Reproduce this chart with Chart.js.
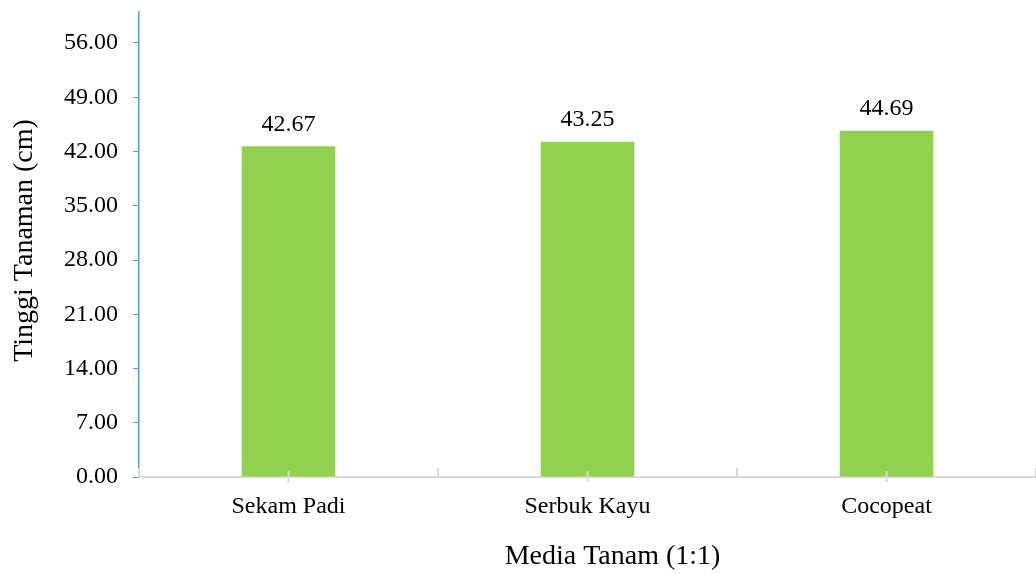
<!DOCTYPE html>
<html>
<head>
<meta charset="utf-8">
<script src="https://cdn.jsdelivr.net/npm/chart.js@4"></script>
<style>
  html, body { margin: 0; padding: 0; background: #fff; }
  #wrap { width: 1036px; height: 574px; }
</style>
</head>
<body>
<div id="wrap"><canvas id="grafik"></canvas></div>
<script>
const kategori = ["Sekam Padi", "Serbuk Kayu", "Cocopeat"];
const tinggi = [42.67, 43.25, 44.69];
const yMax = 60;
const yStep = 7;
const judulX = "Media Tanam (1:1)";
const judulY = "Tinggi Tanaman (cm)";

const fontSerif = "'Liberation Serif', 'Times New Roman', serif";

// angka di atas batang, tanda kecil di sumbu x, dan judul sumbu
const labelBatang = {
  id: "labelBatang",
  afterDatasetsDraw(chart) {
    const ctx = chart.ctx;
    const area = chart.chartArea;
    const meta = chart.getDatasetMeta(0);
    ctx.save();
    ctx.font = "24px " + fontSerif;
    ctx.fillStyle = "#000";
    ctx.textAlign = "center";
    ctx.textBaseline = "middle";
    meta.data.forEach((bar, i) => {
      ctx.fillText(tinggi[i].toFixed(2), bar.x, bar.y - 22);
    });

    const xs = chart.scales.x;
    const bawah = area.bottom;
    ctx.strokeStyle = "#d9d9d9";
    ctx.lineWidth = 2;
    ctx.beginPath();
    kategori.forEach((k, i) => {
      const cx = xs.getPixelForValue(i);
      ctx.moveTo(cx, bawah - 6);
      ctx.lineTo(cx, bawah + 5);
    });
    for (let i = 0; i <= kategori.length; i++) {
      const bx = xs.getPixelForValue(i - 0.5);
      ctx.moveTo(bx, bawah - 9);
      ctx.lineTo(bx, bawah + 1);
    }
    ctx.stroke();

    // judul sumbu x sedikit ke kanan dari tengah
    ctx.font = "28px " + fontSerif;
    ctx.fillText(judulX, (area.left + area.right) / 2 + 25, chart.height - 17);

    // judul sumbu y (diputar)
    ctx.font = "28px " + fontSerif;
    ctx.translate(25, (area.top + area.bottom) / 2 - 4);
    ctx.rotate(-Math.PI / 2);
    ctx.fillText(judulY, 0, 0);
    ctx.restore();
  }
};

new Chart(document.getElementById("grafik"), {
  type: "bar",
  data: {
    labels: kategori,
    datasets: [{
      data: tinggi,
      backgroundColor: "#92d050",
      borderWidth: 0,
      categoryPercentage: 1,
      barPercentage: 0.313
    }]
  },
  options: {
    responsive: true,
    maintainAspectRatio: false,
    animation: false,
    layout: { padding: { top: 0, right: -4, left: 0, bottom: 0 } },
    plugins: {
      legend: { display: false },
      tooltip: { enabled: false }
    },
    scales: {
      x: {
        afterFit(scale) { scale.height = 97; },
        grid: { display: false },
        border: { display: true, color: "#d9d9d9", width: 2 },
        ticks: {
          font: { family: fontSerif, size: 24 },
          color: "#000",
          padding: 7
        }
      },
      y: {
        min: 0,
        max: yMax,
        afterFit(scale) {
          scale.width = 139;
          scale.paddingTop = 12;
          scale.paddingBottom = 0;
        },
        afterBuildTicks(scale) {
          scale.ticks = scale.ticks.filter(t => t.value % yStep === 0);
        },
        grid: {
          display: true,
          drawOnChartArea: false,
          color: "#5b9bd5",
          tickLength: 6
        },
        border: { display: true, color: "#5b9bd5", width: 1.5 },
        ticks: {
          stepSize: yStep,
          font: { family: fontSerif, size: 24 },
          color: "#000",
          padding: 15,
          callback: v => Number(v).toFixed(2)
        }
      }
    }
  },
  plugins: [labelBatang]
});
</script>
</body>
</html>
